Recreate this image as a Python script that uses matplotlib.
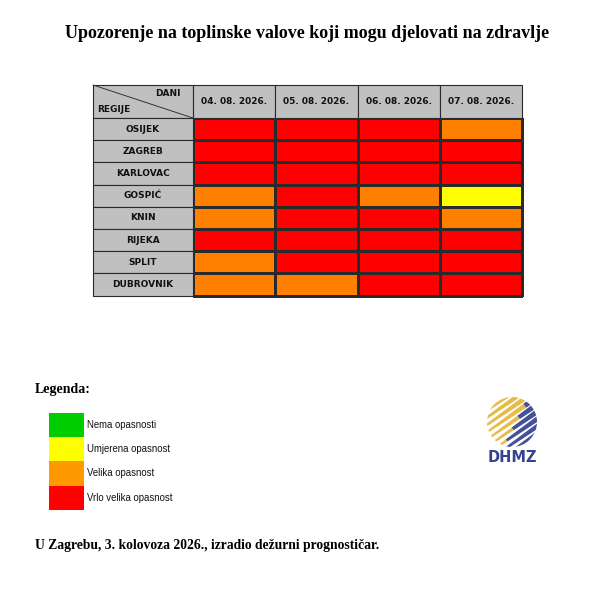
import numpy as np
import matplotlib
matplotlib.use("Agg")
import matplotlib.pyplot as plt
from matplotlib.colors import ListedColormap, BoundaryNorm
from matplotlib.patches import Rectangle, Circle, Polygon

# ---------------- data ----------------
title = "Upozorenje na toplinske valove koji mogu djelovati na zdravlje"
dates = ["04. 08. 2026.", "05. 08. 2026.", "06. 08. 2026.", "07. 08. 2026."]
regions = ["OSIJEK", "ZAGREB", "KARLOVAC", "GOSPIĆ", "KNIN", "RIJEKA", "SPLIT", "DUBROVNIK"]
# 0 = Nema, 1 = Umjerena, 2 = Velika, 3 = Vrlo velika opasnost
levels = [
    [3, 3, 3, 2],
    [3, 3, 3, 3],
    [3, 3, 3, 3],
    [2, 3, 2, 1],
    [2, 3, 3, 2],
    [3, 3, 3, 3],
    [2, 3, 3, 3],
    [2, 2, 3, 3],
]
legend_labels = ["Nema opasnosti", "Umjerena opasnost", "Velika opasnost", "Vrlo velika opasnost"]
cell_colors = ["#00CC00", "#FFFF00", "#FF8000", "#FF0000"]
legend_colors = ["#00CC00", "#FFFF00", "#FF9900", "#FF0000"]
footer = "U Zagrebu, 3. kolovoza 2026., izradio dežurni prognostičar."

# ---------------- layout ----------------
W, H = 605, 594
fig = plt.figure(figsize=(W / 100, H / 100), dpi=100)
ax = fig.add_axes([0, 0, 1, 1])
ax.set_xlim(0, W)
ax.set_ylim(H, 0)
ax.axis("off")

serif = ["Liberation Serif", "DejaVu Serif"]
sans = ["Liberation Sans", "DejaVu Sans"]

ax.text(307.5, 33, title, ha="center", va="center", fontsize=13,
        fontweight="bold", family=serif)

# table geometry
x0, lab_w, col_w = 93, 100, 82.3
y0, head_h, row_h = 85, 33, 22.2
border = "#2a2a2a"
gray = "#C0C0C0"

xedges = x0 + lab_w + col_w * np.arange(len(dates) + 1)
yedges = y0 + head_h + row_h * np.arange(len(regions) + 1)

cmap = ListedColormap(cell_colors)
norm = BoundaryNorm(np.arange(-0.5, 4.5, 1), cmap.N)
ax.pcolormesh(xedges, yedges, np.array(levels), cmap=cmap, norm=norm,
              edgecolors=border, linewidth=0.8)

# header cells
hfont = dict(fontsize=6.5, fontweight="bold", family=["DejaVu Sans"], color="#111111")
ax.add_patch(Rectangle((x0, y0), lab_w, head_h, facecolor=gray, edgecolor=border, lw=0.8))
ax.plot([x0, x0 + lab_w], [y0, y0 + head_h], color="#333333", lw=0.7)
ax.text(x0 + lab_w - 12, y0 + 9, "DANI", ha="right", va="center", **hfont)
ax.text(x0 + 4, y0 + head_h - 8, "REGIJE", ha="left", va="center", **hfont)
for j, d in enumerate(dates):
    ax.add_patch(Rectangle((xedges[j], y0), col_w, head_h, facecolor=gray,
                           edgecolor=border, lw=0.8))
    ax.text(xedges[j] + col_w / 2, y0 + head_h / 2, d, ha="center", va="center", **hfont)
for i, r in enumerate(regions):
    ax.add_patch(Rectangle((x0, yedges[i]), lab_w, row_h, facecolor=gray,
                           edgecolor=border, lw=0.8))
    ax.text(x0 + lab_w / 2, yedges[i] + row_h / 2, r, ha="center", va="center", **hfont)

# legend
ax.text(35, 390, "Legenda:", ha="left", va="center", fontsize=10,
        fontweight="bold", family=serif)
lx, ly, lw_, lh = 49, 413, 35, 24.2
for k, (lab, c) in enumerate(zip(legend_labels, legend_colors)):
    ax.add_patch(Rectangle((lx, ly + k * lh), lw_, lh, facecolor=c, edgecolor="none"))
    ax.text(lx + lw_ + 3, ly + k * lh + lh / 2, lab, ha="left", va="center",
            fontsize=6.9, family=sans, color="#111111")

# logo (approximation of the DHMZ emblem)
cx, cy, rad = 512, 422, 25
clip = Circle((cx, cy), rad, transform=ax.transData)
yel, blu = "#E4B63A", "#34428F"
ang = np.deg2rad(35)
dvec = np.array([np.cos(ang), -np.sin(ang)])   # along stroke: up-right on screen
nvec = np.array([np.sin(ang), np.cos(ang)])    # across strokes: down-right on screen
nstroke = 9
for k in range(nstroke):
    off = -24 + k * 6.0
    base = np.array([cx, cy]) + nvec * off
    a = base - dvec * 34
    b = base + dvec * 34
    w0, w1 = 0.8, 2.8
    split = float(np.clip(1.3 - k * 0.17, 0.0, 1.0))
    m = a + (b - a) * split
    wm = w0 + (w1 - w0) * split
    for p, q, wp, wq, c in [(a, m, w0, wm, yel), (m, b, wm, w1, blu)]:
        if np.allclose(p, q):
            continue
        poly = Polygon([p + nvec * wp, q + nvec * wq, q - nvec * wq, p - nvec * wp],
                       closed=True, facecolor=c, edgecolor="none", alpha=0.92)
        ax.add_patch(poly)
        poly.set_clip_path(clip)
ax.text(cx, 458, "DHMZ", ha="center", va="center", fontsize=10.5,
        fontweight="bold", family=["DejaVu Sans"], color=blu)

ax.text(35, 546, footer, ha="left", va="center", fontsize=9.8,
        fontweight="bold", family=serif)

fig.savefig("out.png", dpi=100, facecolor="white")
